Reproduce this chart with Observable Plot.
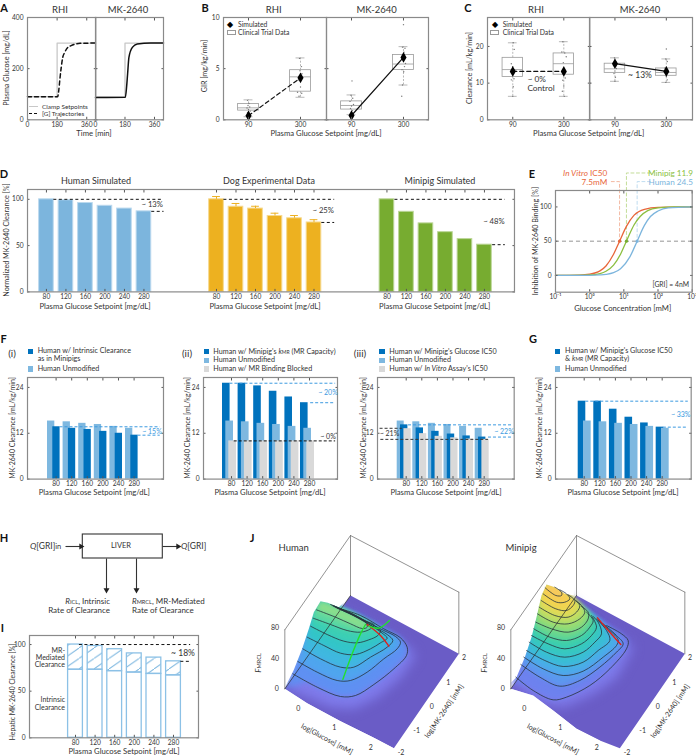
<!DOCTYPE html>
<html><head><meta charset="utf-8">
<script src="https://cdn.jsdelivr.net/npm/d3@7"></script>
<script src="https://cdn.jsdelivr.net/npm/@observablehq/plot@0.6"></script>
<style>
html,body{margin:0;padding:0;background:#fff}
#page{position:relative;width:696px;height:756px;overflow:hidden;font-family:Lato,"Open Sans",sans-serif;color:#333}
#page svg{overflow:visible;background:transparent}
.t{position:absolute;white-space:nowrap;line-height:1}
.t sub{font-size:70%;vertical-align:-18%;line-height:0}
.t sub.big{font-size:88%}
.sw{position:absolute}
</style></head><body><div id="page"></div>
<script>
// ---------- DATA ----------
const rhiTime=[0,183,190,197,205,214,225,245,265,286,320,415];
const rhiGlucose=[90,90,115,160,205,244,262,283,290,295,299,300];
const mkTime=[0,182,190,196,204,225,255,337,415];
const mkGlucose=[87,88,130,180,244,283,296,300,300];
const setpointTime=[0,180,180,415];
const setpointGlucose=[90,90,300,300];

const clampLevels=[90,300];
const girRhiBox=[{lo:0.3,q1:0.9,med:1.17,q3:1.55,hi:1.95},{lo:2.2,q1:2.75,med:4.2,q3:4.85,hi:6.05}];
const girMkBox=[{lo:0.5,q1:1.0,med:1.4,q3:1.8,hi:2.43},{lo:3.4,q1:4.87,med:5.45,q3:6.33,hi:7.15}];
const girRhiSim=[0.4,4.1];
const girMkSim=[0.42,6.1];
const girRhiPts=[[86,1.9],[92,1.6],[88,1.4],[95,1.25],[84,1.15],[90,1.0],[97,0.85],[86,0.7],[93,0.5],[89,0.3],[296,6.0],[304,5.2],[298,4.8],[306,4.5],[292,3.9],[300,3.2],[288,2.7],[305,2.6],[294,2.3]];
const girMkPts=[[92,3.8],[88,2.4],[95,2.1],[84,1.8],[98,1.5],[90,1.35],[86,1.1],[94,0.9],[90,0.55],[300,9.3],[296,7.1],[306,7.0],[302,6.6],[298,6.0],[308,5.5],[304,5.2],[294,4.9],[301,4.7],[296,3.4],[293,2.3]];
const clRhiBox=[{lo:6.4,q1:11.7,med:13.7,q3:16.9,hi:21},{lo:6.4,q1:12.3,med:15.3,q3:18.1,hi:21.3}];
const clMkBox=[{lo:10.5,q1:12.8,med:13.9,q3:15.3,hi:16.9},{lo:10.2,q1:12,med:12.9,q3:14,hi:16.6}];
const clRhiSim=[13.2,13.2];
const clMkSim=[15.3,13.2];
const clRhiPts=[[92,21],[96,19.2],[84,15.3],[90,14.5],[98,13.6],[87,12.8],[95,11.2],[84,10.9],[92,9],[90,6.4],[296,21.3],[292,18.5],[304,18.2],[310,17.2],[298,15.6],[302,13.4],[306,11.4],[296,10.8],[300,9.2],[294,7.8],[302,6.4]];
const clMkPts=[[88,16.9],[94,15.9],[84,14.9],[96,14],[90,13.3],[86,12.6],[92,11.6],[90,10.5],[300,19.3],[298,16.6],[304,15.9],[294,14.1],[302,13.2],[296,12.6],[300,11.8],[304,10.9],[298,10.2]];

const setpoints=[80,120,160,200,240,280];
const humanNorm=[100,99,96,93,90,87];
const dogNorm=[100,92,90,82,79.5,75];
const dogErrTop=[103,95.5,92.5,85,82.5,78];
const pigNorm=[100,86.5,74,64.5,57,51];

const concLabels=["10⁻¹","10⁰","10¹","10²","10³"];
const concTicks=[0.1,1,10,100,1000];
const vitroConc=[0.1,0.5,1,2,3,5,7.5,12,20,40,100,1000];
const vitroInhib=[0,0.4,1.7,6.6,13.8,30.8,50,72,88,96.6,99.4,100];
const pigConc=[0.1,1,2,3,5,8,11.9,20,30,50,100,300,1000];
const pigInhib=[0,0.7,2.7,6,15,31,50,74,86,94.6,98.6,100,100];
const humanConc=[0.1,1,2,3,5,8,15,24.5,40,60,100,200,1000];
const humanInhib=[0,0.1,0.7,1.5,4,9.6,27,50,73,86,94,98.5,100];

const humanUnmod=[15.2,15.0,14.6,14.3,13.8,13.3];
const intrinsicPig=[13.7,13.3,13,12.5,12,11.5];
const kmrPig=[25.1,25.1,24.4,23,21.5,20];
const mrBlocked=[10,10,10,10,10,10];
const ic50Pig=[14.2,13.4,12.5,11.8,11.3,11];
const ic50Vitro=[13.2,11.9,11.2,10.8,10.5,10.4];
const ic50KmrPig=[20.4,20.4,18.3,16.2,14.7,13.6];

const hepaticTotal=[100,98.5,95,90.5,86,82];
const hepaticIntrinsic=[73,73,71.5,70,68.5,67];

// 3D surfaces: curves (picture units)
const boxEdges=[[[133,448],[330,165]],[[330,165],[655,335]],[[655,335],[655,520]],[[330,165],[330,345]],[[133,448],[133,625]]];
const floorHuman=[[133,625],[200,668],[300,722],[400,772],[460,803],[655,520],[330,345]];
const floorPig=[[133,625],[200,645],[260,690],[330,745],[400,780],[460,803],[655,520],[330,345]];
const edgeHuman=[[133,622],[160,568],[185,505],[205,445],[220,395],[240,362]];
const edgePig=[[133,607],[150,590],[175,530],[195,470],[210,410],[225,345],[240,312]];
const ridgeHuman=[[262,367],[295,380],[330,345]];
const ridgePig=[[265,320],[295,340],[322,345]];
const skirtHuman=[[133,625],[160,568],[185,505],[205,445],[220,395],[240,362],[300,385],[390,435],[490,490],[525,525],[480,590],[410,650],[340,685],[270,680],[200,650]];
const skirtPig=[[133,610],[150,590],[175,530],[195,470],[210,410],[225,345],[240,312],[295,345],[375,415],[465,475],[500,500],[450,590],[380,640],[290,680],[230,670],[180,640]];
const contoursHuman=[
 [[157,580],[230,620],[300,648],[345,645],[400,612],[460,565],[498,525],[500,500],[480,472],[430,445],[360,405],[300,385]],
 [[172,543],[230,575],[290,600],[330,600],[380,575],[430,535],[470,505],[480,485],[465,468],[430,450],[390,430],[340,405],[290,383]],
 [[187,505],[240,535],[300,560],[340,560],[390,530],[440,500],[457,480],[440,462],[400,440],[340,406],[285,380]],
 [[200,470],[250,495],[300,518],[345,522],[390,505],[420,487],[440,473],[425,458],[395,437],[340,405],[280,378]],
 [[210,437],[260,462],[310,482],[350,487],[385,478],[412,465],[420,450],[400,435],[350,408],[280,376]],
 [[218,413],[270,432],[320,450],[360,455],[390,445],[400,432],[375,422],[340,402],[275,375]],
 [[228,388],[285,410],[330,430],[365,444],[380,440],[375,425],[330,398],[270,372]]];
const contoursPig=[
 [[148,590],[200,630],[260,658],[300,650],[370,615],[430,565],[480,505],[485,480],[465,460],[420,435]],
 [[163,552],[220,590],[280,617],[340,600],[400,560],[450,515],[470,490],[450,465],[410,430]],
 [[172,530],[230,565],[290,585],[350,572],[410,530],[450,495],[455,478],[430,450],[395,420]],
 [[180,510],[235,540],[290,558],[350,545],[395,510],[430,480],[420,450],[390,415]],
 [[188,485],[240,515],[295,530],[350,515],[385,485],[405,460],[395,425],[380,408]],
 [[195,465],[245,490],[295,505],[345,490],[375,465],[390,440],[375,405]],
 [[202,445],[250,470],[300,480],[345,465],[370,440],[380,420],[360,395]],
 [[208,425],[255,445],[305,455],[345,440],[365,415],[365,395],[345,378]],
 [[213,400],[260,425],[305,430],[340,415],[355,395],[345,375],[330,362]],
 [[218,380],[265,405],[305,410],[330,395],[340,375],[325,358]],
 [[224,360],[268,385],[300,390],[320,375],[325,360],[305,343]],
 [[230,340],[270,365],[295,365],[310,355],[300,340],[280,328]],
 [[236,322],[268,345],[285,345],[285,335],[265,320]]];
const redHuman=[[380,432],[420,465],[445,497]];
const greenHumanA=[[307,597],[335,520],[360,460],[375,432]];
const greenHumanB=[[385,437],[415,443],[447,420]];
const redPig=[[393,412],[430,455],[463,492]];
const rampHuman=["#5f90f2","#4fa5ee","#3fb8df","#33c5c8","#3ccfb4","#5fd8a0","#8ade8c"];
const rampPig=["#6d82ee","#4fa8ee","#33c4cc","#3fd0a8","#8edb78","#d8de5a","#f6d24e","#f7c85f"];

// ---------- HELPERS ----------
const page=document.getElementById("page");
const FONT='Lato,"Open Sans",sans-serif';
const GR="#8a8a8a";
const BLUE="#7eb8e0",DARK="#0072bd",GREY="#d9d9d9",AXC="#333";
const TICK=6.6;
function T(x,y,html,o={}){
  const {s=7.7,a="middle",r=0,c="#333",b=false,i=false}=o;
  const d=document.createElement("div");d.className="t";
  const ax=a==="start"?"0":a==="end"?"-100%":"-50%";
  d.style.cssText=`left:${x}px;top:${y}px;font-size:${s}px;color:${c};font-weight:${b?700:400};font-style:${i?"italic":"normal"};transform:translate(${ax},-50%) rotate(${r}deg)`;
  d.innerHTML=html;page.appendChild(d);
}
function swatch(x0,x1,y0,y1,bg,border){
  const d=document.createElement("div");d.className="sw";
  d.style.cssText=`left:${x0}px;top:${y0}px;width:${x1-x0}px;height:${y1-y0}px;background:${bg};${border?`border:1px solid ${border};box-sizing:border-box;`:""}`;
  page.appendChild(d);
}
function panel({x0,x1,y0,y1,xdom,ydom,xticks,yticks,xfmt,yfmt,xtype,marks=[],frame=GR}){
  const L=40,R=8,T_=8,B=20;
  const fig=Plot.plot({
    width:x1-x0+L+R,height:y1-y0+T_+B,marginLeft:L,marginRight:R,marginTop:T_,marginBottom:B,
    x:{domain:xdom,type:xtype||"linear"},y:{domain:ydom},
    style:{fontFamily:FONT,fontSize:TICK+"px",color:AXC,background:"transparent",overflow:"visible"},
    marks:[
      ...marks,
      Plot.axisX(xticks,{anchor:"bottom",tickSize:-2.5,tickPadding:5,label:null,tickFormat:xfmt,stroke:"#555",fontSize:TICK}),
      Plot.axisX(xticks,{anchor:"top",tickSize:-2.5,tickFormat:()=>"",label:null,stroke:"#555"}),
      Plot.axisY(yticks,{anchor:"left",tickSize:-2.5,tickPadding:6.5,label:null,tickFormat:yfmt,stroke:"#555",fontSize:TICK}),
      Plot.axisY(yticks,{anchor:"right",tickSize:-2.5,tickFormat:()=>"",label:null,stroke:"#555"}),
      Plot.frame({stroke:frame,strokeWidth:1.2})
    ]});
  fig.style.position="absolute";fig.style.left=(x0-L)+"px";fig.style.top=(y0-T_)+"px";
  page.appendChild(fig);
}
const xy=(X,Y)=>X.map((x,i)=>({x,y:Y[i]}));
const noLabel=()=>"";

// ---------- A ----------
function panelA(x0,x1,tm,gl,dash,showY){
  panel({x0,x1,y0:16.7,y1:119,xdom:[0,415],ydom:[0,400],xticks:[0,180,360],yticks:[0,200,400],
    yfmt:showY?undefined:noLabel,
    marks:[
      Plot.line(xy(setpointTime,setpointGlucose),{x:"x",y:"y",stroke:"#c8c8c8",strokeWidth:1.3}),
      Plot.line(xy(tm,gl),{x:"x",y:"y",stroke:"#111",strokeWidth:1.5,strokeDasharray:dash,curve:"monotone-x"})
    ]});
}
panelA(26.7,95,rhiTime,rhiGlucose,"4,3",true);
panelA(95,163,mkTime,mkGlucose,null,false);

// ---------- B, C ----------
function boxPanel(x0,x1,dom,ydom,yticks,box,sim,pts,dash,showY){
  const rows=box.map((b,i)=>({...b,x:clampLevels[i],s:sim[i]}));
  const st="#9a9a9a";
  panel({x0,x1,y0:16.7,y1:119,xdom:dom,ydom,xticks:clampLevels,yticks,yfmt:showY?undefined:noLabel,
    marks:[
      Plot.ruleX(rows,{x:"x",y1:"lo",y2:"q1",stroke:st,strokeDasharray:"2,1.5",strokeWidth:.7}),
      Plot.ruleX(rows,{x:"x",y1:"q3",y2:"hi",stroke:st,strokeDasharray:"2,1.5",strokeWidth:.7}),
      Plot.ruleY(rows,{y:"lo",x1:d=>d.x-18,x2:d=>d.x+18,stroke:st,strokeWidth:.7}),
      Plot.ruleY(rows,{y:"hi",x1:d=>d.x-18,x2:d=>d.x+18,stroke:st,strokeWidth:.7}),
      Plot.rect(rows,{x1:d=>d.x-42,x2:d=>d.x+42,y1:"q1",y2:"q3",stroke:st,fill:"none",strokeWidth:.8}),
      Plot.ruleY(rows,{y:"med",x1:d=>d.x-42,x2:d=>d.x+42,stroke:st,strokeWidth:.8}),
      Plot.dot(pts,{x:d=>d[0],y:d=>d[1],r:.7,fill:"#777",stroke:"none"}),
      Plot.line(rows,{x:"x",y:"s",stroke:"#111",strokeWidth:1.2,strokeDasharray:dash}),
      Plot.dot(rows,{x:"x",y:"s",symbol:"diamond",r:3.2,fill:"#000",stroke:"none"})
    ]});
}
boxPanel(223,326,[-11,405],[0,10],[0,5,10],girRhiBox,girRhiSim,girRhiPts,"4,3",true);
boxPanel(326,428,[-11,401],[0,10],[0,5,10],girMkBox,girMkSim,girMkPts,null,false);
boxPanel(486.7,589,[-14,407],[0,27.9],[0,10,20],clRhiBox,clRhiSim,clRhiPts,"4,3",true);
boxPanel(589,692,[-14,407],[0,27.9],[0,10,20],clMkBox,clMkSim,clMkPts,null,false);

// ---------- D ----------
const groups=[{s:0.97,v:humanNorm,c:"#7cb5dd",e:"#bcd9ee"},{s:9.69,v:dogNorm,c:"#edb120",e:"#f6d98f"},{s:18.43,v:pigNorm,c:"#77ac30",e:"#bbd697"}];
const dRows=groups.flatMap(g=>g.v.map((v,i)=>({pos:g.s+i,v,c:g.c,e:g.e})));
const dTicks=dRows.map(d=>d.pos);
const dLabels=new Map(dRows.map((d,i)=>[d.pos,setpoints[i%6]]));
const dogRows=dogNorm.map((v,i)=>({pos:groups[1].s+i,v,top:dogErrTop[i]}));
const dash=(y,x1,x2,stroke="#111",dasharray="3,2.5")=>Plot.ruleY([y],{x1:()=>x1,x2:()=>x2,stroke,strokeWidth:1,strokeDasharray:dasharray});
panel({x0:26.7,x1:513.7,y0:189.3,y1:291.7,xdom:[0,24.97],ydom:[0,110.6],xticks:dTicks,yticks:[0,50,100],xfmt:d=>dLabels.get(d),
  marks:[
    Plot.rect(dRows,{x1:d=>d.pos-.375,x2:d=>d.pos+.375,y1:()=>0,y2:"v",fill:"c",stroke:"e",strokeWidth:1}),
    Plot.ruleX(dogRows,{x:"pos",y1:"v",y2:"top",stroke:"#edb120",strokeWidth:1}),
    Plot.ruleY(dogRows,{y:"top",x1:d=>d.pos-.2,x2:d=>d.pos+.2,stroke:"#edb120",strokeWidth:1}),
    dash(100,1.35,6.95),dash(87,6.37,7),
    dash(100,10.07,15.75),dash(75,15.09,15.75),
    dash(100,18.84,24.5),dash(51,23.85,24.5)
  ]});

// ---------- E ----------
const vD="3,2.5";
panel({x0:555,x1:691.7,y0:190,y1:291.7,xtype:"log",xdom:[0.1,1000],ydom:[-24.5,124],xticks:concTicks,yticks:[0,50,100],
  xfmt:d=>concLabels[concTicks.indexOf(d)],
  marks:[
    Plot.ruleY([50],{stroke:"#888",strokeWidth:.9,strokeDasharray:"4,3"}),
    Plot.line([[4.3,137],[7.5,137],[7.5,50]],{x:d=>d[0],y:d=>d[1],stroke:"#f3b9a3",strokeDasharray:vD,strokeWidth:1}),
    Plot.line([[60,149.6],[11.9,149.6],[11.9,50]],{x:d=>d[0],y:d=>d[1],stroke:"#c3dd98",strokeDasharray:vD,strokeWidth:1}),
    Plot.line([[60,137],[24.5,137],[24.5,50]],{x:d=>d[0],y:d=>d[1],stroke:"#bfdcf0",strokeDasharray:vD,strokeWidth:1}),
    Plot.line(xy(vitroConc,vitroInhib),{x:"x",y:"y",stroke:"#e8663a",strokeWidth:1.3,curve:"monotone-x"}),
    Plot.line(xy(pigConc,pigInhib),{x:"x",y:"y",stroke:"#8cbf40",strokeWidth:1.3,curve:"monotone-x"}),
    Plot.line(xy(humanConc,humanInhib),{x:"x",y:"y",stroke:"#7cb5dd",strokeWidth:1.3,curve:"monotone-x"}),
    Plot.dot([[7.5,50]],{x:d=>d[0],y:d=>d[1],r:1.6,fill:"#e8663a"}),
    Plot.dot([[11.9,50]],{x:d=>d[0],y:d=>d[1],r:1.6,fill:"#77ac30"}),
    Plot.dot([[24.5,50]],{x:d=>d[0],y:d=>d[1],r:1.6,fill:"#7cb5dd"})
  ]});

// ---------- F, G ----------
function barPanel(x0,x1,p80,series,dashes){
  const st=15.6,k=40/st;
  const marks=series.map(([vals,a,b,c])=>Plot.rect(vals.map((v,i)=>({s:setpoints[i],v})),
    {x1:d=>d.s+a*k,x2:d=>d.s+b*k,y1:()=>0,y2:"v",fill:c}));
  marks.push(...dashes.map(([y,a,b,c])=>dash(y,a,b,c,"3,2")));
  panel({x0,x1,y0:376.7,y1:478.3,xdom:[80-(p80-x0)*k,80+(x1-p80)*k],ydom:[0,26.6],xticks:setpoints,yticks:[0,12,24],marks});
}
const BD="#3b9ae0";
barPanel(26.7,162.7,55.3,[[humanUnmod,-8.6,-1.3,BLUE],[intrinsicPig,-3.3,4,DARK]],[[13.7,90,347,BD],[11.5,290,347,BD]]);
barPanel(202.7,336.7,230.7,[[kmrPig,-9,-1.4,DARK],[humanUnmod,-5.7,2,BLUE],[mrBlocked,-2.7,5,GREY]],[[25.1,76,347,BD],[20,283,347,BD],[10,87,347,"#111"]]);
barPanel(377.3,514,406,[[humanUnmod,-9,-2,BLUE],[ic50Pig,-5.7,1.7,DARK],[ic50Vitro,-2.3,5,GREY]],[[14.2,86,353,BD],[11,291,353,BD],[13.3,13,70,"#333"],[10.4,15,291,"#333"]]);
barPanel(555,690.7,583.7,[[ic50KmrPig,-6,1.6,DARK],[humanUnmod,-.7,7,BLUE]],[[20.4,84,347,BD],[13.6,283,347,BD]]);

// ---------- H ----------
const flowArrows=[[65,12,82,12],[162,12,179,12],[106,24,106,57],[136,24,136,57]];
{
  const fig=Plot.plot({width:220,height:70,margin:0,x:{domain:[0,220],axis:null},y:{domain:[70,0],axis:null},
    style:{background:"transparent",overflow:"visible"},
    marks:[
      Plot.rect([[82.3,162.3,0,24]],{x1:d=>d[0],x2:d=>d[1],y1:d=>d[2],y2:d=>d[3],stroke:"#333",fill:"none",strokeWidth:1.1}),
      Plot.link(flowArrows,{x1:d=>d[0],y1:d=>d[1],x2:d=>d[2],y2:d=>d[3],stroke:"#333",strokeWidth:1.1}),
      Plot.dot(flowArrows,{x:d=>d[2]-(d[2]>d[0]?1.5:0),y:d=>d[3]-(d[3]>d[1]?1.5:0),symbol:"triangle",r:2.2,fill:"#222",stroke:"none",rotate:d=>d[3]>d[1]?180:90})
    ]});
  fig.style.position="absolute";fig.style.left="0";fig.style.top="534.3px";page.appendChild(fig);
}

// ---------- I ----------
function hatchDefs(){
  const g=document.createElementNS("http://www.w3.org/2000/svg","g");
  g.innerHTML=`<defs><pattern id="hatch" patternUnits="userSpaceOnUse" width="15" height="10.5"><path d="M-1,11.2L16,-.7" stroke="${BLUE}" stroke-width="1" fill="none"/></pattern></defs>`;
  return g;
}
{
  const rows=setpoints.map((s,i)=>({s,t:hepaticTotal[i],n:hepaticIntrinsic[i]}));
  const hw=7.4/19.6*40;
  panel({x0:29.3,x1:198.3,y0:635,y1:737.3,xdom:[80-(75.3-29.3)/19.6*40,80+(198.3-75.3)/19.6*40],ydom:[0,109.7],xticks:setpoints,yticks:[0,50,100],
    marks:[
      hatchDefs,
      Plot.rect(rows,{x1:d=>d.s-hw,x2:d=>d.s+hw,y1:"n",y2:"t",fill:"url(#hatch)",stroke:"#8cc1e6",strokeWidth:1.3}),
      Plot.rect(rows,{x1:d=>d.s-hw,x2:d=>d.s+hw,y1:()=>0,y2:"n",fill:"none",stroke:"#8cc1e6",strokeWidth:1.3}),
      dash(100,88,315),dash(82,295,315)
    ]});
}

// ---------- J ----------
function surface(X,floor,skirt,edge,ridge,contours,ramp,extra){
  const n=contours.length;
  const col=d3.piecewise(d3.interpolateRgb,ramp);
  const fillOf=k=>col(n>1?k/(n-1):0);
  const P=(a,o)=>Plot.line(a,{x:d=>d[0],y:d=>d[1],...o});
  const peak=edge[edge.length-1];
  const marks=[
    P([...floor,floor[0]],{fill:"#6a5cc6",stroke:"none"}),
    P(skirt,{fill:"#7f7cec",stroke:"none",imageFilter:"blur(6px)"}),
    P([...edge,...skirt.slice(edge.length,edge.length+3),[330,470],[250,560],[180,610]],{fill:ramp[0],stroke:"none",imageFilter:"blur(3px)"})
  ];
  contours.forEach((c,k)=>{
    const s=c[0],back=edge.filter(p=>p[1]<s[1]).reverse();
    marks.push(P([...c,peak,...back],{fill:fillOf(k),stroke:"none",imageFilter:"blur(2.5px)"}));
  });
  // masks keep the soft fills inside the surface's outline
  const top=[...edge,...ridge,[ridge[ridge.length-1][0],100],[40,100],[40,650],[133,650]];
  marks.push(P([...top,top[0]],{fill:"#fff",stroke:"none"}));
  const front=floor.slice(0,6);
  marks.push(P([...front.slice(0,5),[460,900],[40,900],[40,625]],{fill:"#fff",stroke:"none"}));
  marks.push(...boxEdges.map(e=>P(e,{stroke:"#777",strokeWidth:.8})));
  contours.forEach(c=>marks.push(P(c,{stroke:"#26323c",strokeWidth:.8,curve:"catmull-rom"})));
  marks.push(P([[133,625],[330,345]],{stroke:"#2a2a2a",strokeWidth:.7}));
  marks.push(...extra.map(([a,c])=>P(a,{stroke:c,strokeWidth:1.4,curve:"catmull-rom"})));
  const fig=Plot.plot({width:230,height:276,margin:0,x:{domain:[0,690],axis:null},y:{domain:[828,0],axis:null},
    style:{background:"transparent",overflow:"visible"},marks});
  fig.style.position="absolute";fig.style.left=X+"px";fig.style.top="480px";page.appendChild(fig);
  const p=(x,y,h,o)=>T(X+x/3,480+y/3,h,{s:7,...o});
  [[105,440,"80"],[105,533,"40"],[110,625,"0"],[175,685,"0"],[283,742,"1"],[392,800,"2"],[483,816,"-2"],[530,750,"-1"],[575,677,"0"],[625,605,"1"],[672,530,"2"]].forEach(a=>p(a[0],a[1],a[2]));
  p(55,550,"<i>F</i><sub>MRCL</sub>",{r:-90,s:8});
  p(260,778,"log[Glucose] [mM]",{r:28,s:7.2});
  p(612,693,"log[MK-2640] [mM]",{r:-56,s:7.2});
}
surface(240,floorHuman,skirtHuman,edgeHuman,ridgeHuman,contoursHuman,rampHuman,[[redHuman,"#e0201c"],[greenHumanA,"#22e030"],[greenHumanB,"#22e030"]]);
surface(466,floorPig,skirtPig,edgePig,ridgePig,contoursPig,rampPig,[[redPig,"#e0201c"]]);

// ---------- TEXT ----------
const L={s:11,b:true,c:"#111"};
[["A",4,6.5],["B",205,6.5],["C",468,6.5],["D",4,173],["E",532,173],["F",3.5,338],["G",533,338],["H",4,537],["I",2.5,627],["J",252,537]].forEach(([t,x,y])=>T(x,y,t,L));
[["RHI",60],["MK-2640",128],["RHI",273.7],["MK-2640",376.7],["RHI",536],["MK-2640",640]].forEach(([t,x])=>T(x,9.7,t,{s:9.5}));
T(7,68,"Plasma Glucose [mg/dL]",{r:-90,s:7.2});
T(94,134,"Time [min]");
T(205,66,"GIR [mg/kg/min]",{r:-90,s:7.2});
T(326,133.5,"Plasma Glucose Setpoint [mg/dL]");
T(470,68,"Clearance [mL/kg/min]",{r:-90,s:7.2});
T(588.7,134,"Plasma Glucose Setpoint [mg/dL]");
// A legend
swatch(29,38,105.5,107,"#c8c8c8");
swatch(29,32,112.5,114,"#111");swatch(34,37,112.5,114,"#111");
T(42,106.5,"Clamp Setpoints",{a:"start",s:6.4});
T(42,113.5,"[G] Trajectories",{a:"start",s:6.4});
// B, C legends
[[230,226.7,238],[495,490.3,502.7]].forEach(([dx,bx,tx])=>{
  T(dx,23.8,"◆",{s:8,c:"#000"});
  swatch(bx,bx+9,29.5,34.5,"#fff","#999");
  T(tx,24,"Simulated",{a:"start",s:6.8});
  T(tx,32,"Clinical Trial Data",{a:"start",s:6.8});
});
T(536.7,79,"~ 0%",{s:8.3});T(541,87.8,"Control",{s:8.3});T(640,74.7,"~ 13%",{s:8.5});
// D
[["Human Simulated",96],["Dog Experimental Data",269],["Minipig Simulated",440]].forEach(([t,x])=>T(x,180,t,{s:9}));
T(7,240,"Normalized MK-2640 Clearance [%]",{r:-90,s:7.2});
[95,265,434.7].forEach(x=>T(x,307,"Plasma Glucose Setpoint [mg/dL]"));
T(163,205,"~ 13%",{a:"end"});T(334,211,"~ 25%",{a:"end"});T(504.7,221.7,"~ 48%",{a:"end"});
// E
T(607.3,172.8,"<i>In Vitro</i> IC50",{a:"end",s:8.2,c:"#e8663a"});
T(607.3,181.7,"7.5mM",{a:"end",s:8.2,c:"#e8663a"});
T(693,172.8,"Minipig 11.9",{a:"end",s:8.2,c:"#8cbf40"});
T(693,181.7,"Human 24.5",{a:"end",s:8.2,c:"#7cb5dd"});
T(536,241,"Inhibition of MK-2640 Binding [%]",{r:-90,s:7.2});
T(622.7,309,"Glucose Concentration [mM]");
T(689,284,"[GRI] = 4nM",{a:"end",s:6.8});
// F, G legends
[["(i)",12],["(ii)",187],["(iii)",360]].forEach(([t,x])=>T(x,353,t,{s:10}));
const leg=(sx,tx,rows)=>rows.forEach(([y,c,t])=>{ if(c) swatch(sx,sx+5.4,y-2.6,y+2.6,c); T(tx,y,t,{a:"start",s:7.2}); });
leg(27.7,37.7,[[351.3,DARK,"Human w/ Intrinsic Clearance"],[358.9,null,"as in Minipigs"],[369,BLUE,"Human Unmodified"]]);
leg(204,213.3,[[351.5,DARK,"Human w/ Minipig's <i>k</i><sub>MR</sub> (MR Capacity)"],[360.3,BLUE,"Human Unmodified"],[369,GREY,"Human w/ MR Binding Blocked"]]);
leg(379.3,389.3,[[351.5,DARK,"Human w/ Minipig's Glucose IC50"],[360.3,BLUE,"Human Unmodified"],[369,GREY,"Human w/ <i>In Vitro</i> Assay's IC50"]]);
leg(555,565,[[351.3,DARK,"Human w/ Minipig's Glucose IC50"],[358.9,null,"& <i>k</i><sub>MR</sub> (MR Capacity)"],[369,BLUE,"Human Unmodified"]]);
[[12,94.3],[186.7,270],[362.7,446],[539,623]].forEach(([a,b])=>{
  T(a,427.5,"MK-2640 Clearance [mL/kg/min]",{r:-90,s:7});
  T(b,493,"Plasma Glucose Setpoint [mg/dL]");
});
T(152,431,"~ 15%",{s:7,c:BD});
T(328,392.3,"~ 20%",{s:7,c:BD});T(328,435.7,"~ 0%",{s:7});
T(389.5,433,"~ 21%",{s:7});T(504,430.7,"~ 22%",{s:7,c:BD});
T(680.7,413.7,"~ 33%",{s:7,c:BD});
// H
T(30,546,'<i>Q</i>[GRI]<sub class="big">in</sub>',{a:"start",s:8.5});
T(121,546,"LIVER",{s:7.5});
T(181,546,"<i>Q</i>[GRI]",{a:"start",s:8.5});
T(110,601.4,"<i>R</i><sub>ICL</sub>, Intrinsic",{a:"end",s:8});
T(110,610,"Rate of Clearance",{a:"end",s:8});
T(132,601.4,"<i>R</i><sub>MRCL</sub>, MR-Mediated",{a:"start",s:8});
T(132,610,"Rate of Clearance",{a:"start",s:8});
// I
T(11.7,691.7,"Hepatic MK-2640 Clearance [%]",{r:-90,s:6.8});
T(124,751.5,"Plasma Glucose Setpoint [mg/dL]");
[["MR-",649.8],["Mediated",657],["Clearance",664.2],["Intrinsic",699],["Clearance",707]].forEach(([t,y])=>T(65,y,t,{a:"end",s:7}));
T(183,653,"~ 18%",{s:8.5});
// J titles
T(293.7,547.7,"Human",{s:9.5});
T(521,547.7,"Minipig",{s:9.5});
</script></body></html>
